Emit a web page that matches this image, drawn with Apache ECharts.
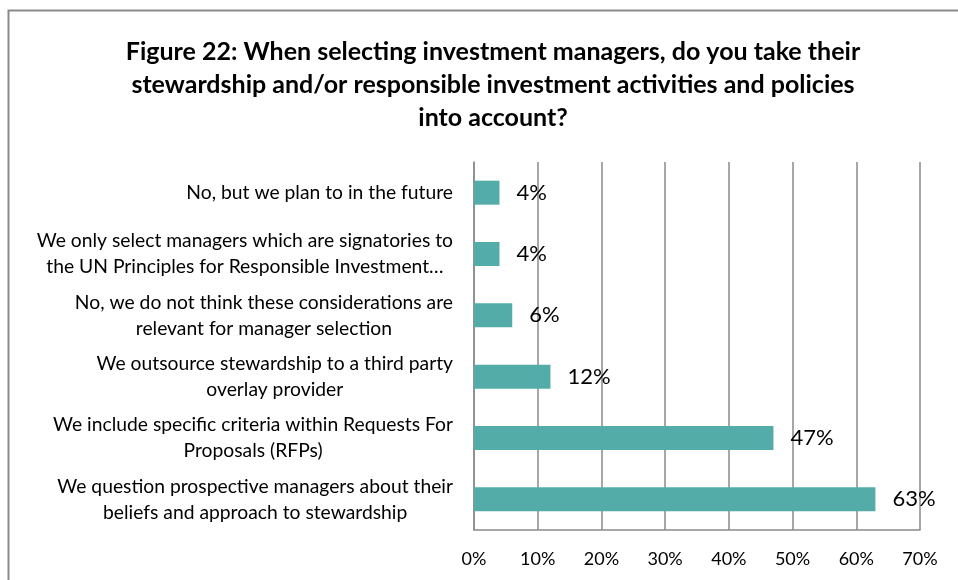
<!DOCTYPE html>
<html>
<head>
<meta charset="utf-8">
<script src="https://cdn.jsdelivr.net/npm/echarts@6/dist/echarts.min.js"></script>
<style>
  html, body { margin: 0; padding: 0; background: #fff; }
  #chart { width: 958px; height: 580px; }
</style>
</head>
<body>
<div id="chart"></div>
<script>
// Answer options, listed bottom-to-top as the category axis draws them
const categories = [
  'We question prospective managers about their\nbeliefs and approach to stewardship',
  'We include specific criteria within Requests For\nProposals (RFPs)',
  'We outsource stewardship to a third party\noverlay provider',
  'No, we do not think these considerations are\nrelevant for manager selection',
  'We only select managers which are signatories to\nthe UN Principles for Responsible Investment…',
  'No, but we plan to in the future'
];
// Share of respondents (%)
const shares = [63, 47, 12, 6, 4, 4];
// Percentage axis ticks
const axisMin = 0;
const axisMax = 70;
const axisStep = 10;

const titleText = 'Figure 22: When selecting investment managers, do you take their\nstewardship and/or responsible investment activities and policies\ninto account?';

const FONT = 'Lato, "Open Sans", sans-serif';
const GRID_GRAY = '#8a8a8a';

const chart = echarts.init(document.getElementById('chart'), null, { renderer: 'canvas' });

chart.setOption({
  backgroundColor: '#ffffff',
  animation: false,
  title: {
    text: titleText,
    left: 488,
    top: 30,
    textAlign: 'center',
    textStyle: {
      fontFamily: FONT,
      fontWeight: 'bold',
      fontSize: 25,
      lineHeight: 33,
      color: '#000000'
    }
  },
  graphic: [
    {
      type: 'polyline',
      silent: true,
      shape: { points: [[8.5, 580], [8.5, 10.5], [958, 10.5]] },
      style: { stroke: GRID_GRAY, lineWidth: 2, fill: null }
    }
  ],
  grid: {
    left: 474,
    right: 38,
    top: 162,
    bottom: 50,
    containLabel: false
  },
  xAxis: {
    type: 'value',
    min: axisMin,
    max: axisMax,
    interval: axisStep,
    axisLine: { show: true, lineStyle: { color: GRID_GRAY, width: 1.5 } },
    axisTick: { show: false },
    splitLine: { show: true, lineStyle: { color: GRID_GRAY, width: 1.5 } },
    axisLabel: {
      formatter: '{value}%',
      margin: 20,
      fontFamily: FONT,
      fontSize: 18,
      color: '#000000'
    }
  },
  yAxis: {
    type: 'category',
    data: categories,
    axisLine: { show: true, lineStyle: { color: GRID_GRAY, width: 1.5 } },
    axisTick: { show: false },
    axisLabel: {
      margin: 21,
      color: '#000000',
      formatter: function (v) {
        return v.split('\n').map(function (l) { return '{c|' + l + '}'; }).join('\n');
      },
      rich: {
        c: {
          align: 'center',
          fontFamily: FONT,
          fontSize: 19.3,
          lineHeight: 26,
          color: '#000000'
        }
      }
    }
  },
  series: [
    {
      type: 'bar',
      data: shares,
      barWidth: 24,
      itemStyle: { color: '#53aca8' },
      label: {
        show: true,
        position: 'right',
        distance: 17,
        formatter: '{c}%',
        fontFamily: FONT,
        fontSize: 22,
        color: '#000000'
      }
    }
  ]
});
</script>
</body>
</html>
